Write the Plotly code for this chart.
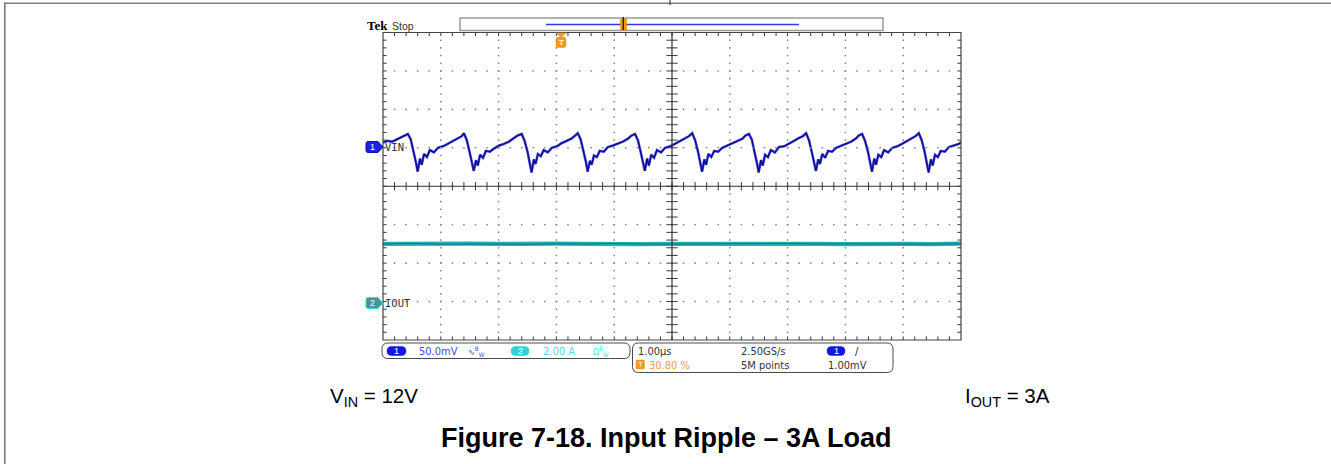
import plotly.graph_objects as go

# ---------------- captured waveform data ----------------
# Channel 1: input voltage ripple (AC), time in microseconds, value in mV
vin_time_us = [
    0.00, 0.08, 0.16, 0.24, 0.31, 0.37,
    0.43, 0.48, 0.53, 0.57, 0.60, 0.64, 0.67, 0.71, 0.76, 0.81, 0.88, 0.95, 1.04, 1.12, 1.21, 1.30, 1.36,
    1.40, 1.45, 1.50, 1.54, 1.57, 1.61, 1.64, 1.68, 1.73, 1.78, 1.85, 1.92, 2.01, 2.09, 2.18, 2.27, 2.33,
    2.40, 2.45, 2.50, 2.54, 2.57, 2.61, 2.64, 2.68, 2.73, 2.78, 2.85, 2.92, 3.01, 3.09, 3.18, 3.26, 3.31,
    3.37, 3.42, 3.47, 3.51, 3.54, 3.58, 3.61, 3.65, 3.70, 3.75, 3.82, 3.89, 3.98, 4.06, 4.15, 4.24, 4.30,
    4.36, 4.41, 4.46, 4.50, 4.53, 4.57, 4.60, 4.64, 4.69, 4.74, 4.81, 4.88, 4.97, 5.05, 5.14, 5.23, 5.29,
    5.35, 5.40, 5.45, 5.49, 5.52, 5.56, 5.59, 5.63, 5.68, 5.73, 5.80, 5.87, 5.96, 6.04, 6.13, 6.22, 6.27,
    6.33, 6.38, 6.43, 6.47, 6.50, 6.54, 6.57, 6.61, 6.66, 6.71, 6.78, 6.85, 6.94, 7.02, 7.11, 7.20, 7.26,
    7.32, 7.37, 7.42, 7.46, 7.49, 7.53, 7.56, 7.60, 7.65, 7.70, 7.77, 7.84, 7.93, 8.01, 8.10, 8.18, 8.23,
    8.29, 8.34, 8.39, 8.43, 8.46, 8.50, 8.53, 8.57, 8.62, 8.67, 8.74, 8.81, 8.90, 8.98, 9.07, 9.15, 9.21,
    9.27, 9.32, 9.37, 9.41, 9.44, 9.48, 9.51, 9.55, 9.60, 9.65, 9.72, 9.79, 9.88, 9.96, 10.00,
]
vin_mv = [
    7, 9, 8, 11, 13, 16,
    18, 11, -4, -19, -31, -14, -22, -8, -12, -3, -6, 0, 2, 5, 9, 12, 15,
    19, 10, -6, -18, -30, -16, -23, -9, -13, -4, -5, -1, 3, 5, 8, 13, 16,
    18, 9, -5, -20, -32, -15, -21, -8, -11, -3, -6, 0, 2, 6, 9, 12, 15,
    19, 11, -4, -18, -31, -17, -22, -10, -12, -4, -5, 1, 3, 5, 8, 12, 16,
    18, 10, -6, -19, -30, -14, -23, -9, -13, -3, -6, 0, 2, 5, 9, 13, 15,
    19, 10, -5, -19, -31, -15, -22, -8, -12, -4, -5, 0, 3, 6, 8, 12, 16,
    18, 11, -4, -20, -32, -16, -23, -9, -12, -3, -6, 1, 2, 5, 9, 13, 15,
    19, 10, -6, -18, -30, -15, -21, -8, -13, -4, -5, 0, 3, 6, 8, 12, 16,
    18, 9, -5, -19, -31, -14, -22, -9, -12, -3, -6, 0, 2, 5, 9, 12, 15,
    19, 10, -5, -19, -32, -15, -23, -9, -12, -4, -5, 1, 3, 5, 7,
]

# Channel 2: output current, time in microseconds, value in A
iout_time_us = [0.0, 0.5, 1.0, 1.5, 2.0, 2.5, 3.0, 3.5, 4.0, 4.5, 5.0,
                5.5, 6.0, 6.5, 7.0, 7.5, 8.0, 8.5, 9.0, 9.5, 10.0]
iout_a = [3.00, 3.02, 2.99, 3.01, 3.00, 2.98, 3.01, 3.00, 3.02, 2.99, 3.00,
          3.01, 2.99, 3.00, 3.02, 3.00, 2.99, 3.01, 3.00, 2.99, 3.01]

# scope settings
ch1_scale_mv = 50.0      # mV/div
ch1_offset_div = 1.0     # ground marker position, divisions above centre
ch2_scale_a = 2.0        # A/div
ch2_offset_div = -3.0
time_per_div_us = 1.0
h_divs, v_divs = 10, 8

# ---------------- page geometry helpers ----------------
W, H = 1331, 464
X0, X1, Y0, Y1 = 383, 961, 32.5, 340


def px(x):
    return x / W


def py(y):
    return 1 - y / H


def pt(x, y):
    return f"{px(x):.5f},{py(y):.5f}"


def rrect(x0, y0, x1, y1, r):
    return (f"M {pt(x0 + r, y0)} L {pt(x1 - r, y0)} Q {pt(x1, y0)} {pt(x1, y0 + r)} "
            f"L {pt(x1, y1 - r)} Q {pt(x1, y1)} {pt(x1 - r, y1)} L {pt(x0 + r, y1)} "
            f"Q {pt(x0, y1)} {pt(x0, y1 - r)} L {pt(x0, y0 + r)} Q {pt(x0, y0)} {pt(x0 + r, y0)} Z")


def tag(y, fill, line):
    path = (f"M {pt(368, y - 5.5)} L {pt(378, y - 5.5)} L {pt(383, y)} L {pt(378, y + 5.5)} "
            f"L {pt(368, y + 5.5)} Q {pt(366, y + 5.5)} {pt(366, y + 3.5)} L {pt(366, y - 3.5)} "
            f"Q {pt(366, y - 5.5)} {pt(368, y - 5.5)} Z")
    return dict(type="path", path=path, xref="paper", yref="paper",
                fillcolor=fill, line=dict(color=line, width=1), layer="above")


fig = go.Figure()

# ---------------- graticule ----------------
t_max = h_divs * time_per_div_us
fifths_x = [i / 5 * time_per_div_us for i in range(1, h_divs * 5)]
fifths_y = [j / 5 - v_divs / 2 for j in range(1, v_divs * 5)]
dot_x, dot_y = [], []
for k in range(1, h_divs):
    if k == h_divs // 2:
        continue
    for yy in fifths_y:
        dot_x.append(k * time_per_div_us)
        dot_y.append(yy)
for m in range(-v_divs // 2 + 1, v_divs // 2):
    if m == 0:
        continue
    for xx in fifths_x:
        dot_x.append(xx)
        dot_y.append(m)
fig.add_trace(go.Scatter(x=dot_x, y=dot_y, yaxis="y3", mode="markers",
                         marker=dict(symbol="square", size=1.6, color="#8c8c8c"),
                         hoverinfo="skip", showlegend=False))

tick_col = "#3a3a3a"
# ticks on the centre cross
fig.add_trace(go.Scatter(x=fifths_x, y=[0] * len(fifths_x), yaxis="y3", mode="markers",
                         marker=dict(symbol="line-ns", size=6, line=dict(width=1, color=tick_col)),
                         hoverinfo="skip", showlegend=False))
fig.add_trace(go.Scatter(x=[t_max / 2] * len(fifths_y), y=fifths_y, yaxis="y3", mode="markers",
                         marker=dict(symbol="line-ew", size=8, line=dict(width=1, color=tick_col)),
                         hoverinfo="skip", showlegend=False))
# ticks along the frame, pointing inward
dx_in = 1.5 / ((X1 - X0) / t_max)
dy_in = 1.5 / ((Y1 - Y0) / v_divs)
fig.add_trace(go.Scatter(x=fifths_x * 2,
                         y=[v_divs / 2 - dy_in] * len(fifths_x) + [-v_divs / 2 + dy_in] * len(fifths_x),
                         yaxis="y3", mode="markers",
                         marker=dict(symbol="line-ns", size=3, line=dict(width=1, color=tick_col)),
                         hoverinfo="skip", showlegend=False))
fig.add_trace(go.Scatter(x=[dx_in] * len(fifths_y) + [t_max - dx_in] * len(fifths_y),
                         y=fifths_y * 2, yaxis="y3", mode="markers",
                         marker=dict(symbol="line-ew", size=3, line=dict(width=1, color=tick_col)),
                         hoverinfo="skip", showlegend=False))

# ---------------- waveforms ----------------
fig.add_trace(go.Scatter(x=iout_time_us, y=iout_a, yaxis="y2", mode="lines",
                         line=dict(color="#22b4b4", width=4.2), hoverinfo="skip", showlegend=False))
fig.add_trace(go.Scatter(x=iout_time_us, y=iout_a, yaxis="y2", mode="lines",
                         line=dict(color="#0f6f6f", width=1), hoverinfo="skip", showlegend=False))
fig.add_trace(go.Scatter(x=vin_time_us, y=vin_mv, yaxis="y", mode="lines",
                         line=dict(color="#5656e2", width=2.6), hoverinfo="skip", showlegend=False))
fig.add_trace(go.Scatter(x=vin_time_us, y=vin_mv, yaxis="y", mode="lines",
                         line=dict(color="#0d0d92", width=1.4), hoverinfo="skip", showlegend=False))

# ---------------- axes ----------------
half = v_divs / 2
ch1_range = [(-half - ch1_offset_div) * ch1_scale_mv, (half - ch1_offset_div) * ch1_scale_mv]
ch2_range = [(-half - ch2_offset_div) * ch2_scale_a, (half - ch2_offset_div) * ch2_scale_a]
fig.update_layout(
    width=W, height=H, margin=dict(l=0, r=0, t=0, b=0),
    paper_bgcolor="white", plot_bgcolor="rgba(0,0,0,0)", showlegend=False,
    xaxis=dict(domain=[px(X0), px(X1)], range=[0, t_max], visible=False, fixedrange=True),
    yaxis=dict(domain=[py(Y1), py(Y0)], range=ch1_range, visible=False, fixedrange=True),
    yaxis2=dict(overlaying="y", anchor="x", range=ch2_range, visible=False, fixedrange=True),
    yaxis3=dict(overlaying="y", anchor="x", range=[-half, half], visible=False, fixedrange=True),
)

shapes = []
# outer page frame
shapes.append(dict(type="line", xref="paper", yref="paper", x0=px(4.8), x1=px(4.8), y0=py(2.5), y1=py(H),
                   line=dict(color="#7a7a7a", width=1.6)))
shapes.append(dict(type="line", xref="paper", yref="paper", x0=px(4), x1=1, y0=py(3.2), y1=py(3.2),
                   line=dict(color="#808080", width=1.4)))
shapes.append(dict(type="line", xref="paper", yref="paper", x0=px(670), x1=px(670), y0=py(0), y1=py(5),
                   line=dict(color="#404040", width=1.2)))
# graticule frame and centre cross
shapes.append(dict(type="rect", xref="paper", yref="paper", x0=px(X0), x1=px(X1), y0=py(Y1), y1=py(Y0),
                   line=dict(color="#444444", width=1.2)))
shapes.append(dict(type="line", xref="x", yref="paper", x0=t_max / 2, x1=t_max / 2, y0=py(Y1), y1=py(Y0),
                   line=dict(color="#333333", width=1.2)))
shapes.append(dict(type="line", xref="paper", yref="y3", x0=px(X0), x1=px(X1), y0=0, y1=0,
                   line=dict(color="#333333", width=1.2)))

# record-position bar at the top
shapes.append(dict(type="rect", xref="paper", yref="paper", x0=px(460), x1=px(883), y0=py(30.5), y1=py(18),
                   fillcolor="white", line=dict(color="#9a9a9a", width=1.5)))
shapes.append(dict(type="line", xref="paper", yref="paper", x0=px(546), x1=px(799), y0=py(24.5), y1=py(24.5),
                   line=dict(color="#3535f5", width=1.3)))
shapes.append(dict(type="rect", xref="paper", yref="paper", x0=px(620.5), x1=px(626.5), y0=py(30), y1=py(19),
                   fillcolor="#f29a1a", line=dict(color="#e08a00", width=0.6)))
shapes.append(dict(type="line", xref="paper", yref="paper", x0=px(623.3), x1=px(623.3), y0=py(30), y1=py(17),
                   line=dict(color="#202020", width=1.4)))

# trigger position marker
shapes.append(dict(type="path", xref="paper", yref="paper",
                   path=f"M {pt(556, 33)} L {pt(566, 33)} L {pt(561, 37.5)} Z",
                   fillcolor="#f29a1a", line=dict(color="#f29a1a", width=0.5)))
shapes.append(dict(type="path", xref="paper", yref="paper", path=rrect(556, 37, 566, 47.5, 2),
                   fillcolor="#f29a1a", line=dict(color="#f29a1a", width=0.5)))

# channel ground markers
shapes.append(tag(147, "#1f1fe0", "#1010c0"))
shapes.append(tag(303, "#4a9696", "#40d8d8"))

# status readout boxes
shapes.append(dict(type="path", xref="paper", yref="paper", path=rrect(382, 343, 630, 358.5, 6),
                   line=dict(color="#4a4a4a", width=1)))
shapes.append(dict(type="path", xref="paper", yref="paper", path=rrect(632.5, 343, 893, 372.5, 6),
                   line=dict(color="#4a4a4a", width=1)))
shapes.append(dict(type="path", xref="paper", yref="paper", path=rrect(387, 346.5, 406, 355.5, 4.5),
                   fillcolor="#1414e6", line=dict(color="#1414e6", width=0.5)))
shapes.append(dict(type="path", xref="paper", yref="paper", path=rrect(511, 346.5, 529, 355.5, 4.5),
                   fillcolor="#2ed2d2", line=dict(color="#2ed2d2", width=0.5)))
shapes.append(dict(type="path", xref="paper", yref="paper", path=rrect(827, 346.5, 845, 355.5, 4.5),
                   fillcolor="#1414e6", line=dict(color="#1414e6", width=0.5)))
shapes.append(dict(type="path", xref="paper", yref="paper", path=rrect(636, 360, 644.5, 369, 1),
                   fillcolor="#f29a1a", line=dict(color="#f29a1a", width=0.5)))
fig.update_layout(shapes=shapes)

# ---------------- text ----------------
SANS = "Liberation Sans, Arial, sans-serif"
NARROW = "Liberation Sans Narrow, DejaVu Sans Condensed, Liberation Sans, sans-serif"
MONO = "DejaVu Sans Mono, monospace"


def label(x, y, text, size, color="#222222", family=NARROW, anchor="left"):
    fig.add_annotation(x=px(x), y=py(y), xref="paper", yref="paper", text=text, showarrow=False,
                       xanchor=anchor, yanchor="middle", font=dict(size=size, color=color, family=family),
                       borderpad=0)


label(366, 25, "<b>Tek</b>", 13, "#000000", "Liberation Serif, Times New Roman, serif")
label(391, 26, "Stop", 10.5, "#333333", SANS)
label(561, 42.5, "<b>T</b>", 8, "white", SANS, "center")

label(372.5, 147, "1", 9, "white", SANS, "center")
label(384, 147, "VIN", 10.5, "#333333", MONO)
label(372.5, 303, "2", 9, "white", SANS, "center")
label(384, 303, "IOUT", 10.5, "#333333", MONO)

label(396.5, 351, "1", 9, "white", SANS, "center")
label(418, 351, "50.0mV", 11, "#4646ee")
label(467, 351, "∿<sup>B</sup><sub>W</sub>", 9, "#4646ee")
label(520, 351, "2", 9, "white", SANS, "center")
label(542, 351, "2.00 A", 11, "#4ee0e0")
label(592, 351, "Ω<sup>B</sup><sub>W</sub>", 9, "#4ee0e0")

label(637, 351, "1.00µs", 11, "#333333")
label(740, 351, "2.50GS/s", 11, "#333333")
label(836, 351, "1", 9, "white", SANS, "center")
label(854, 351, "∕", 11, "#222222")
label(640.2, 364.8, "T", 8, "white", SANS, "center")
label(648, 365, "30.80 %", 11, "#f2a030")
label(740, 365, "5M points", 11, "#333333")
label(827, 365, "1.00mV", 11, "#333333")

label(329, 397, "V<sub>IN</sub> = 12V", 20.5, "#000000", SANS)
label(964, 397, "I<sub>OUT</sub> = 3A", 20.5, "#000000", SANS)
label(666, 438, "<b>Figure 7-18. Input Ripple – 3A Load</b>", 27, "#000000", SANS, "center")

fig.write_html("out.html")
